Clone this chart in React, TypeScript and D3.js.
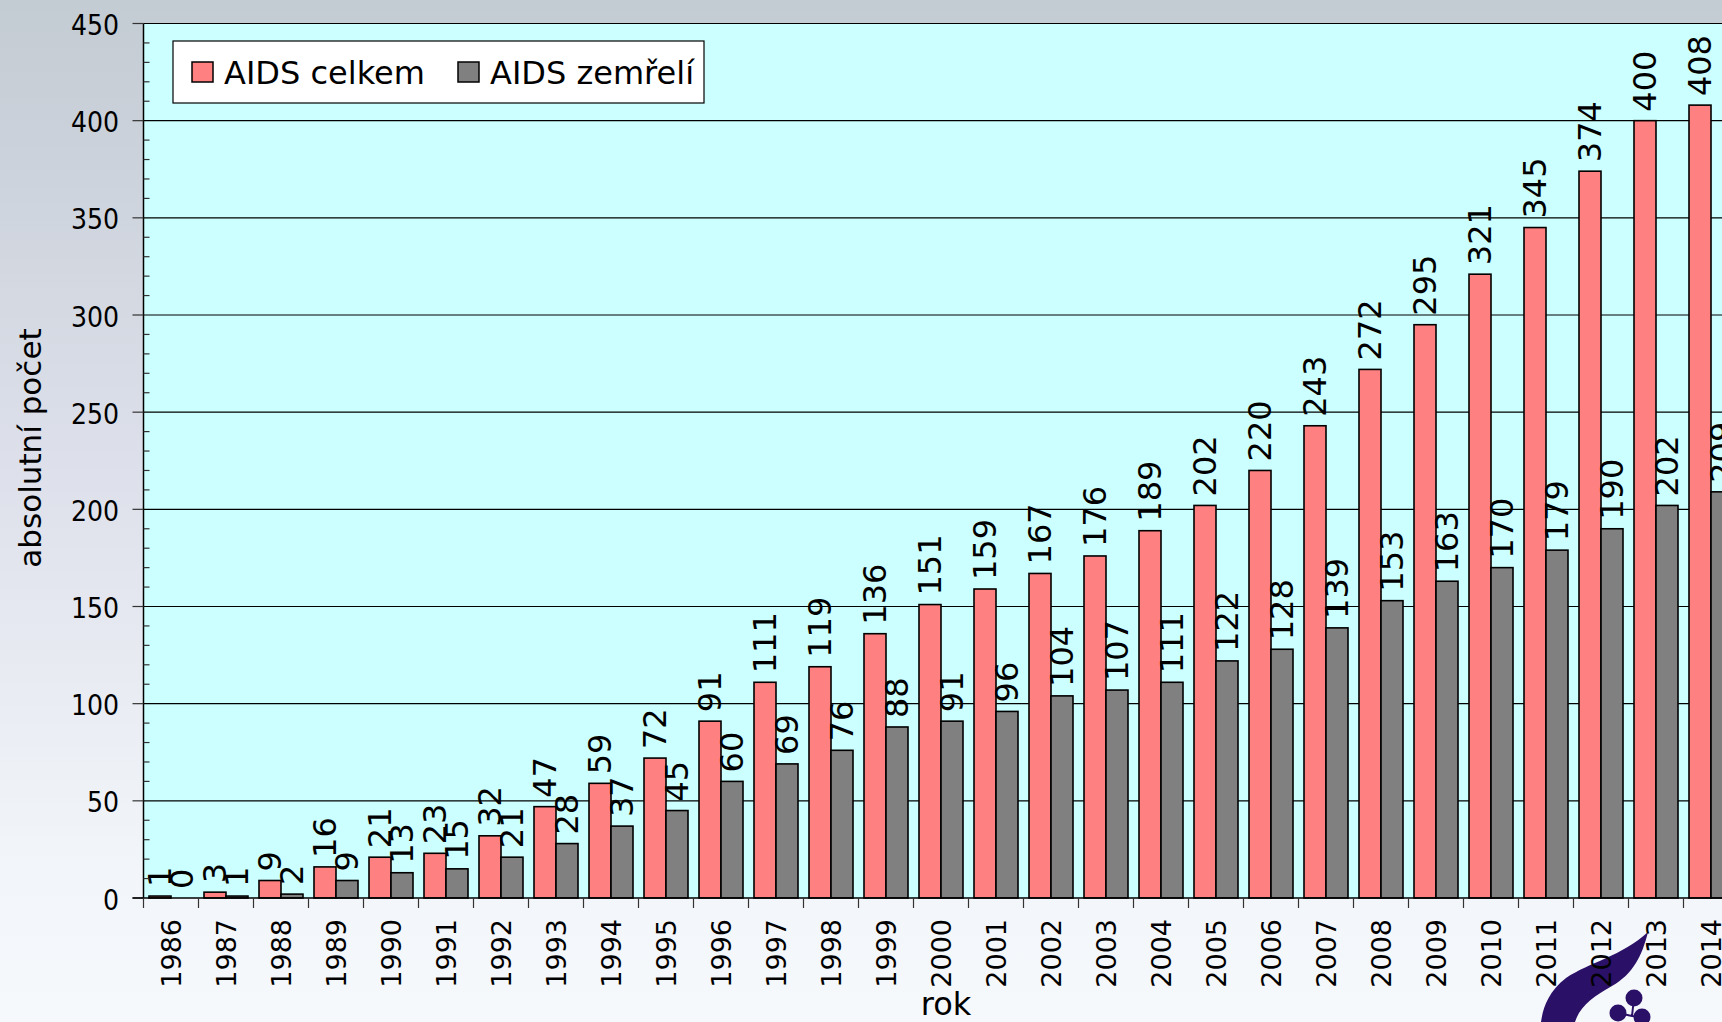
import React, { useEffect } from "react";
import * as d3 from "d3";

const years = ["1986","1987","1988","1989","1990","1991","1992","1993","1994","1995","1996","1997","1998","1999","2000","2001","2002","2003","2004","2005","2006","2007","2008","2009","2010","2011","2012","2013","2014"];
const celkem = [1,3,9,16,21,23,32,47,59,72,91,111,119,136,151,159,167,176,189,202,220,243,272,295,321,345,374,400,408];
const zemreli = [0,1,2,9,13,15,21,28,37,45,60,69,76,88,91,96,104,107,111,122,128,139,153,163,170,179,190,202,209];
const seriesNames = ["AIDS celkem", "AIDS zemřelí"];
const seriesColors = ["#ff8080", "#808080"];
const yTicks = [0,50,100,150,200,250,300,350,400,450];
const yMinor = d3.range(0, 451, 10);

const W = 1722, H = 1022;
const X0 = 143.5, STEP = 55;
const Y0 = 898, Y1 = 23.5;

export default function App() {
  useEffect(() => { document.body.style.margin = "0"; }, []);
  const x = d3.scaleBand<string>().domain(years).range([X0, X0 + years.length * STEP]).paddingInner(0.2).paddingOuter(0.1);
  const x1 = d3.scaleBand<string>().domain(["c", "z"]).range([0, x.bandwidth()]);
  const y = d3.scaleLinear().domain([0, 450]).range([Y0, Y1]);
  const series = [celkem, zemreli];
  const keys = ["c", "z"];
  const plotRight = X0 + years.length * STEP;
  const sansC = "'DejaVu Sans Condensed', 'DejaVu Sans', sans-serif";
  const sans = "'DejaVu Sans', Verdana, sans-serif";

  return (
    <svg width={W} height={H} style={{ display: "block", position: "absolute", left: 0, top: 0 }}>
      <defs>
        <linearGradient id="bg" x1="0" y1="0" x2="0" y2="1">
          <stop offset="0" stopColor="#c3cbd3" />
          <stop offset="0.45" stopColor="#dde0ea" />
          <stop offset="0.85" stopColor="#f2f5f9" />
          <stop offset="1" stopColor="#f6f9fc" />
        </linearGradient>
      </defs>
      <rect x={0} y={0} width={W} height={H} fill="url(#bg)" />
      {/* logo */}
      <g fill="#2b1067">
        <path d="M1648,932 C1622,956 1590,962 1566,978 C1548,992 1543,1008 1541,1022 L1575,1022 C1580,1006 1594,996 1612,986 C1633,974 1642,956 1648,932 Z" />
        <circle cx={1634} cy={998} r={8.5} />
        <circle cx={1618} cy={1013} r={8.5} />
        <circle cx={1642} cy={1017} r={8.5} />
        <path d="M1634,998 L1632,1016 M1618,1013 L1632,1016 L1642,1017" stroke="#2b1067" strokeWidth={2} fill="none" />
      </g>
      {/* plot area */}
      <rect x={X0} y={Y1} width={plotRight - X0} height={Y0 - Y1} fill="#ccffff" />
      {yTicks.slice(1).map(t => (
        <line key={"g" + t} x1={X0} x2={plotRight} y1={y(t)} y2={y(t)} stroke="#000" strokeWidth={1.2} />
      ))}
      {/* bars */}
      {series.map((vals, si) => vals.map((v, i) => {
        const bx = (x(years[i]) as number) + (x1(keys[si]) as number);
        const bw = x1.bandwidth();
        return v > 0 ? (
          <rect key={si + "-" + i} x={bx} y={y(v)} width={bw} height={Y0 - y(v)} fill={seriesColors[si]} stroke="#000" strokeWidth={1.6} />
        ) : null;
      }))}
      {/* value labels */}
      {series.map((vals, si) => vals.map((v, i) => {
        const cx = (x(years[i]) as number) + (x1(keys[si]) as number) + x1.bandwidth() / 2;
        return (
          <text key={"l" + si + "-" + i} transform={`translate(${cx},${y(v) - 9}) rotate(-90)`} textAnchor="start" dominantBaseline="central" fontFamily={sans} fontSize={32} fill="#000">{v}</text>
        );
      }))}
      {/* y axis */}
      <line x1={X0} x2={X0} y1={Y1} y2={Y0} stroke="#000" strokeWidth={1.5} />
      {yMinor.filter(t => t % 50 !== 0).map(t => (
        <line key={"m" + t} x1={X0} x2={X0 + 6} y1={y(t)} y2={y(t)} stroke="#333" strokeWidth={1.2} />
      ))}
      {yTicks.map(t => (
        <g key={"t" + t}>
          <line x1={X0 - 11} x2={X0} y1={y(t)} y2={y(t)} stroke="#333" strokeWidth={1.2} />
          <text x={119} y={y(t) + 2} textAnchor="end" dominantBaseline="central" fontFamily={sansC} fontStretch="condensed" fontSize={28} fill="#000">{t}</text>
        </g>
      ))}
      {/* x axis */}
      <line x1={X0 - 11} x2={plotRight} y1={Y0} y2={Y0} stroke="#000" strokeWidth={1.5} />
      {years.map((yr, i) => (
        <line key={"xt" + yr} x1={X0 + i * STEP} x2={X0 + i * STEP} y1={Y0} y2={Y0 + 10} stroke="#333" strokeWidth={1.2} />
      ))}
      {years.map(yr => (
        <text key={"xl" + yr} transform={`translate(${(x(yr) as number) + x.bandwidth() / 2},${919}) rotate(-90)`} textAnchor="end" dominantBaseline="central" fontFamily={sans} fontSize={27} fill="#000">{yr}</text>
      ))}
      {/* axis titles */}
      <text x={946} y={1015} textAnchor="middle" fontFamily={sans} fontSize={32} fill="#000">rok</text>
      <text transform={`translate(41,448) rotate(-90)`} textAnchor="middle" fontFamily={sans} fontSize={31} fill="#000">absolutní počet</text>
      {/* legend */}
      <g>
        <rect x={173} y={41} width={531} height={62} fill="#fff" stroke="#000" strokeWidth={1.2} />
        <rect x={192} y={62} width={21} height={20} fill={seriesColors[0]} stroke="#000" strokeWidth={1.5} />
        <text x={224} y={84} fontFamily={sans} fontSize={32} fill="#000">{seriesNames[0]}</text>
        <rect x={458} y={62} width={21} height={20} fill={seriesColors[1]} stroke="#000" strokeWidth={1.5} />
        <text x={490} y={84} fontFamily={sans} fontSize={32} fill="#000">{seriesNames[1]}</text>
      </g>
    </svg>
  );
}
